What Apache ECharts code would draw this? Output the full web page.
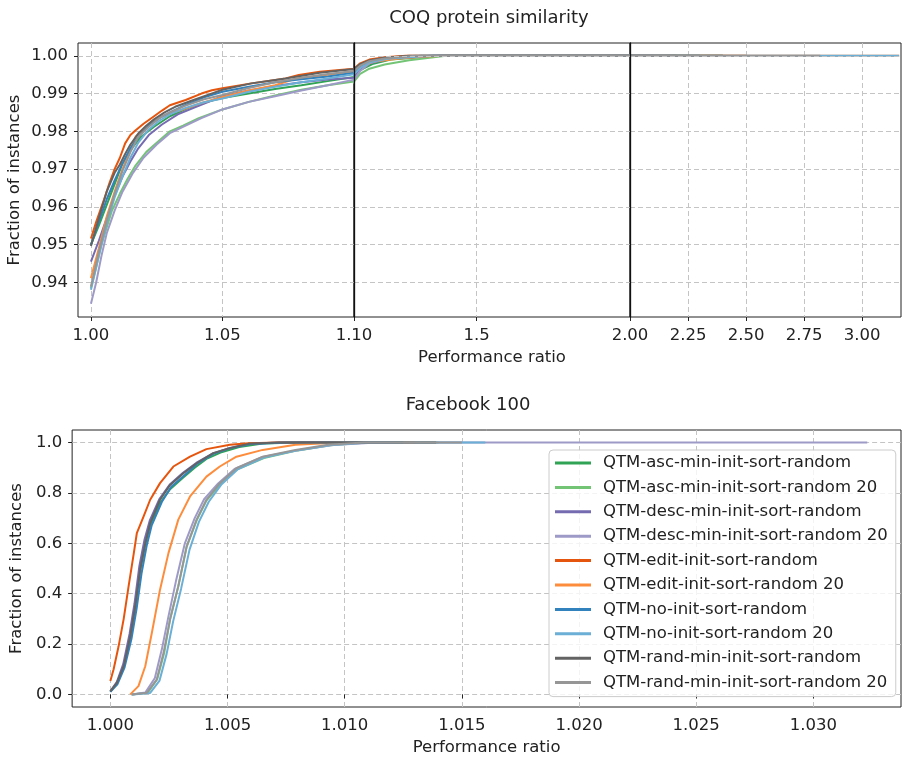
<!DOCTYPE html>
<html><head><meta charset="utf-8">
<script src="https://cdn.jsdelivr.net/npm/echarts@6/dist/echarts.min.js"></script>
<style>html,body{margin:0;padding:0;background:#fff}#c{width:902px;height:759px}</style>
</head><body><div id="c"></div>
<script>
// ---------------- data ----------------
const seriesNames = [
  'QTM-asc-min-init-sort-random', 'QTM-asc-min-init-sort-random 20',
  'QTM-desc-min-init-sort-random', 'QTM-desc-min-init-sort-random 20',
  'QTM-edit-init-sort-random', 'QTM-edit-init-sort-random 20',
  'QTM-no-init-sort-random', 'QTM-no-init-sort-random 20',
  'QTM-rand-min-init-sort-random', 'QTM-rand-min-init-sort-random 20'
];
const seriesColors = ['#31a354','#74c476','#756bb1','#9e9ac8','#e6550d','#fd8d3c','#3182bd','#6baed6','#636363','#969696'];

// COQ protein similarity : [performance ratio, fraction of instances]
const coqAsc = [[1.000,0.9500],[1.003,0.9550],[1.006,0.9605],[1.009,0.9660],[1.012,0.9715],[1.015,0.9750],[1.019,0.9785],[1.024,0.9812],[1.030,0.9840],[1.037,0.9862],[1.044,0.9878],[1.050,0.9888],[1.060,0.9900],[1.070,0.9912],[1.080,0.9922],[1.090,0.9933],[1.100,0.9944],[1.120,0.9962],[1.160,0.9978],[1.220,0.9990],[1.380,1.0],[2.40,1.0]];
const coqAsc20 = [[1.000,0.9385],[1.002,0.9440],[1.004,0.9500],[1.006,0.9545],[1.008,0.9590],[1.011,0.9635],[1.014,0.9675],[1.017,0.9710],[1.021,0.9745],[1.025,0.9770],[1.030,0.9800],[1.035,0.9815],[1.041,0.9835],[1.050,0.9858],[1.060,0.9878],[1.070,0.9895],[1.080,0.9910],[1.090,0.9922],[1.100,0.9932],[1.120,0.9952],[1.150,0.9966],[1.200,0.9977],[1.280,0.9988],[1.400,1.0],[2.00,1.0]];
const coqDesc = [[1.000,0.9455],[1.003,0.9510],[1.006,0.9570],[1.009,0.9630],[1.012,0.9680],[1.015,0.9720],[1.018,0.9755],[1.022,0.9790],[1.027,0.9818],[1.033,0.9845],[1.040,0.9865],[1.050,0.9893],[1.060,0.9908],[1.070,0.9920],[1.080,0.9930],[1.090,0.9937],[1.100,0.9942],[1.120,0.9962],[1.150,0.9980],[1.220,0.9992],[1.360,1.0],[2.20,1.0]];
const coqDesc20 = [[1.000,0.9343],[1.002,0.9400],[1.004,0.9470],[1.006,0.9530],[1.009,0.9590],[1.012,0.9640],[1.016,0.9690],[1.020,0.9730],[1.025,0.9765],[1.030,0.9795],[1.035,0.9812],[1.042,0.9835],[1.050,0.9858],[1.060,0.9878],[1.070,0.9893],[1.080,0.9908],[1.090,0.9922],[1.100,0.9937],[1.120,0.9960],[1.150,0.9980],[1.200,0.9992],[1.300,0.9998],[1.360,1.0],[2.10,1.0]];
const coqEdit = [[1.000,0.9516],[1.002,0.9560],[1.0035,0.9590],[1.005,0.9620],[1.007,0.9662],[1.009,0.9700],[1.011,0.9730],[1.013,0.9768],[1.015,0.9790],[1.017,0.9803],[1.020,0.9820],[1.024,0.9840],[1.027,0.9855],[1.030,0.9869],[1.036,0.9883],[1.042,0.9900],[1.046,0.9909],[1.050,0.9914],[1.061,0.9927],[1.074,0.9940],[1.079,0.9949],[1.087,0.9958],[1.100,0.9966],[1.120,0.9980],[1.150,0.9990],[1.200,0.9996],[1.270,1.0],[2.50,1.0]];
const coqEdit20 = [[1.000,0.9411],[1.003,0.9490],[1.006,0.9574],[1.009,0.9640],[1.012,0.9700],[1.015,0.9752],[1.017,0.9786],[1.020,0.9805],[1.023,0.9825],[1.027,0.9840],[1.030,0.9848],[1.035,0.9858],[1.042,0.9875],[1.050,0.9891],[1.060,0.9908],[1.070,0.9922],[1.078,0.9940],[1.090,0.9950],[1.100,0.9959],[1.120,0.9972],[1.160,0.9984],[1.250,0.9993],[1.330,0.9998],[1.400,1.0],[3.16,1.0]];
const coqNo = [[1.000,0.9499],[1.003,0.9560],[1.006,0.9620],[1.009,0.9670],[1.012,0.9715],[1.015,0.9755],[1.018,0.9785],[1.022,0.9815],[1.026,0.9835],[1.030,0.9850],[1.036,0.9870],[1.043,0.9890],[1.050,0.9905],[1.060,0.9918],[1.070,0.9930],[1.080,0.9938],[1.090,0.9945],[1.100,0.9955],[1.120,0.9972],[1.150,0.9985],[1.200,0.9993],[1.320,1.0],[2.30,1.0]];
const coqNo20 = [[1.000,0.9380],[1.003,0.9470],[1.006,0.9556],[1.009,0.9625],[1.012,0.9680],[1.015,0.9730],[1.018,0.9770],[1.022,0.9805],[1.026,0.9828],[1.030,0.9845],[1.036,0.9862],[1.043,0.9877],[1.050,0.9887],[1.060,0.9905],[1.070,0.9918],[1.080,0.9930],[1.090,0.9940],[1.100,0.9951],[1.120,0.9968],[1.150,0.9982],[1.210,0.9992],[1.350,1.0],[3.16,1.0]];
const coqRand = [[1.000,0.9496],[1.003,0.9570],[1.006,0.9640],[1.009,0.9690],[1.011,0.9712],[1.013,0.9740],[1.015,0.9765],[1.018,0.9794],[1.021,0.9815],[1.024,0.9832],[1.028,0.9850],[1.032,0.9865],[1.039,0.9883],[1.045,0.9898],[1.050,0.9910],[1.061,0.9927],[1.074,0.9940],[1.087,0.9955],[1.100,0.9965],[1.120,0.9978],[1.150,0.9988],[1.200,0.9995],[1.280,1.0],[2.40,1.0]];
const coqRand20 = [[1.000,0.9389],[1.003,0.9480],[1.006,0.9565],[1.009,0.9635],[1.012,0.9695],[1.015,0.9745],[1.018,0.9785],[1.022,0.9812],[1.026,0.9835],[1.030,0.9850],[1.036,0.9868],[1.043,0.9885],[1.050,0.9896],[1.060,0.9915],[1.070,0.9930],[1.080,0.9942],[1.090,0.9952],[1.100,0.9960],[1.120,0.9974],[1.150,0.9986],[1.200,0.9993],[1.300,1.0],[2.82,1.0]];

// Facebook 100
const fbAsc = [[1.0000,0.011],[1.00028,0.045],[1.00057,0.11],[1.00085,0.228],[1.00106,0.345],[1.00127,0.49],[1.00149,0.595],[1.0017,0.672],[1.00212,0.76],[1.00255,0.815],[1.0031,0.86],[1.0036,0.9],[1.0041,0.935],[1.0047,0.96],[1.0055,0.982],[1.0065,0.996],[1.0080,1.0],[1.0126,1.0]];
const fbAsc20 = [[1.0009,0.0],[1.0016,0.007],[1.0020,0.06],[1.0023,0.165],[1.00255,0.30],[1.0029,0.43],[1.00325,0.585],[1.00368,0.69],[1.0041,0.77],[1.0047,0.835],[1.0054,0.893],[1.0066,0.94],[1.0080,0.969],[1.0094,0.989],[1.0110,1.0],[1.0140,1.0]];
const fbDesc = [[1.0000,0.012],[1.00028,0.05],[1.00055,0.12],[1.00082,0.24],[1.00103,0.36],[1.00124,0.51],[1.00146,0.615],[1.00168,0.69],[1.0021,0.777],[1.00255,0.835],[1.0031,0.88],[1.00368,0.92],[1.0044,0.958],[1.0051,0.979],[1.0059,0.995],[1.0072,1.0],[1.0120,1.0]];
const fbDesc20 = [[1.0009,0.0],[1.0015,0.008],[1.0019,0.065],[1.0022,0.18],[1.00248,0.31],[1.0028,0.45],[1.00318,0.60],[1.0036,0.70],[1.0040,0.775],[1.0046,0.838],[1.0053,0.895],[1.0065,0.943],[1.0080,0.970],[1.0095,0.990],[1.0110,0.998],[1.0140,1.0],[1.0323,1.0]];
const fbEdit = [[1.0000,0.053],[1.00014,0.10],[1.00035,0.19],[1.00057,0.30],[1.00078,0.43],[1.0010,0.56],[1.00113,0.64],[1.00142,0.707],[1.0017,0.773],[1.00212,0.839],[1.00269,0.905],[1.0034,0.944],[1.0041,0.974],[1.0051,0.991],[1.0059,0.997],[1.0072,1.0],[1.0098,1.0]];
const fbEdit20 = [[1.00085,0.0],[1.0012,0.033],[1.00149,0.112],[1.00177,0.244],[1.00212,0.416],[1.00248,0.561],[1.0029,0.694],[1.0034,0.786],[1.0041,0.865],[1.00467,0.905],[1.00538,0.944],[1.0065,0.971],[1.0079,0.991],[1.0098,1.0],[1.0130,1.0]];
const fbNo = [[1.0000,0.010],[1.0003,0.040],[1.0006,0.105],[1.0009,0.22],[1.00112,0.34],[1.00133,0.48],[1.00155,0.59],[1.00176,0.67],[1.0022,0.765],[1.0026,0.825],[1.0032,0.873],[1.0037,0.915],[1.0044,0.955],[1.0051,0.977],[1.0060,0.994],[1.0075,1.0],[1.0125,1.0]];
const fbNo20 = [[1.00095,0.0],[1.0017,0.006],[1.0021,0.055],[1.0024,0.16],[1.00268,0.29],[1.00302,0.42],[1.00338,0.575],[1.00378,0.685],[1.0042,0.765],[1.00475,0.835],[1.00545,0.895],[1.0066,0.942],[1.0080,0.970],[1.0094,0.990],[1.0110,1.0],[1.0160,1.0]];
const fbRand = [[1.0000,0.012],[1.00028,0.046],[1.00057,0.112],[1.00085,0.231],[1.00106,0.35],[1.00127,0.495],[1.00149,0.601],[1.0017,0.68],[1.00212,0.773],[1.00255,0.832],[1.00312,0.878],[1.00368,0.918],[1.00439,0.958],[1.0051,0.978],[1.0059,0.995],[1.0072,1.0],[1.0139,1.0]];
const fbRand20 = [[1.00092,0.0],[1.00156,0.007],[1.00198,0.059],[1.00227,0.165],[1.00255,0.297],[1.0029,0.429],[1.00326,0.588],[1.00368,0.694],[1.0041,0.773],[1.00467,0.839],[1.00538,0.898],[1.0065,0.944],[1.0079,0.971],[1.0093,0.991],[1.0108,1.0],[1.0150,1.0]];

const coqData = [coqAsc, coqAsc20, coqDesc, coqDesc20, coqEdit, coqEdit20, coqNo, coqNo20, coqRand, coqRand20];
const fbData = [fbAsc, fbAsc20, fbDesc, fbDesc20, fbEdit, fbEdit20, fbNo, fbNo20, fbRand, fbRand20];

// tick values
const coqYTicks = [0.94, 0.95, 0.96, 0.97, 0.98, 0.99, 1.00];
const coqXTicks1 = [1.00, 1.05, 1.10];
const coqXTicks2 = [1.5];
const coqXTicks3 = [2.00, 2.25, 2.50, 2.75, 3.00];
const fbXTicks = [1.000, 1.005, 1.010, 1.015, 1.020, 1.025, 1.030];
const fbYTicks = [0.0, 0.2, 0.4, 0.6, 0.8, 1.0];

// ---------------- chart ----------------
const FONT = 'DejaVu Sans';
const FS = 16.5;
const TXT = '#222';
const GRIDC = '#c4c4c4';

function xAx(gi, min, max, ticks, fmt, extra) {
  return Object.assign({
    type: 'value', gridIndex: gi, min: min, max: max,
    axisLine: { show: false },
    axisTick: { show: true, customValues: ticks, length: 4, inside: false, lineStyle: { color: TXT, width: 1 } },
    axisLabel: { show: true, customValues: ticks, formatter: fmt, fontFamily: FONT, fontSize: FS, color: TXT, margin: 10, showMinLabel: true, showMaxLabel: true },
    splitLine: { show: true, lineStyle: { color: GRIDC, type: [5, 3], width: 1 } }
  }, extra || {});
}
function yAx(gi, min, max, ticks, fmt, showLabels, extra) {
  return Object.assign({
    type: 'value', gridIndex: gi, min: min, max: max,
    axisLine: { show: false },
    axisTick: { show: showLabels, customValues: ticks, length: 4, lineStyle: { color: TXT, width: 1 } },
    axisLabel: { show: showLabels, customValues: ticks, formatter: fmt, fontFamily: FONT, fontSize: FS, color: TXT, margin: 10, showMinLabel: true, showMaxLabel: true },
    splitLine: { show: true, lineStyle: { color: GRIDC, type: [5, 3], width: 1 } }
  }, extra || {});
}

const gridStyle = { show: true, borderColor: TXT, borderWidth: 1, backgroundColor: 'transparent', containLabel: false };
const grids = [
  Object.assign({ left: 78, top: 43, width: 276, height: 274 }, gridStyle),
  Object.assign({ left: 354, top: 43, width: 276, height: 274 }, gridStyle),
  Object.assign({ left: 630, top: 43, width: 271, height: 274 }, gridStyle),
  Object.assign({ left: 68, top: 430, width: 833, height: 277 }, gridStyle)
];

const f2 = v => v.toFixed(2);
const f1 = v => String(v);
const f3 = v => v.toFixed(3);
const f1y = v => v.toFixed(1);

const nameStyle = { fontFamily: FONT, fontSize: FS, color: TXT };
// solid separator line between the broken-axis panels (drawn above grid lines)
const sepLine = { show: true, lineStyle: { color: '#111', width: 1.3 } };

const xAxes = [
  xAx(0, 0.99508, 1.10, coqXTicks1, f2),
  xAx(1, 1.10, 2.00, coqXTicks2, f1, { name: 'Performance ratio', nameLocation: 'middle', nameGap: 32, nameTextStyle: nameStyle }),
  xAx(2, 2.00, 3.168, coqXTicks3, f2),
  xAx(3, 0.99837, 1.03374, fbXTicks, f3, { name: 'Performance ratio', nameLocation: 'middle', nameGap: 32, nameTextStyle: nameStyle })
];
const yAxes = [
  yAx(0, 0.9308, 1.0034, coqYTicks, f2, true, { name: 'Fraction of instances', nameLocation: 'middle', nameRotate: 90, nameGap: 55, nameTextStyle: nameStyle }),
  yAx(1, 0.9308, 1.0034, coqYTicks, f2, false, { axisLine: sepLine, z: 6 }),
  yAx(2, 0.9308, 1.0034, coqYTicks, f2, false, { axisLine: sepLine, z: 6 }),
  yAx(3, -0.05, 1.05, fbYTicks, f1y, true, { name: 'Fraction of instances', nameLocation: 'middle', nameRotate: 90, nameGap: 45, nameTextStyle: nameStyle })
];

const series = [];
for (let gi = 0; gi < 3; gi++) {
  coqData.forEach((d, k) => {
    series.push({
      type: 'line', name: seriesNames[k], xAxisIndex: gi, yAxisIndex: gi, data: d,
      symbol: 'none', showSymbol: false, clip: true, silent: true, animation: false,
      lineStyle: { width: 2, color: seriesColors[k] }, itemStyle: { color: seriesColors[k] }
    });
  });
}
fbData.forEach((d, k) => {
  series.push({
    type: 'line', name: seriesNames[k], xAxisIndex: 3, yAxisIndex: 3, data: d,
    symbol: 'none', showSymbol: false, clip: true, silent: true, animation: false,
    lineStyle: { width: 2, color: seriesColors[k] }, itemStyle: { color: seriesColors[k] }
  });
});

const option = {
  backgroundColor: '#fff',
  animation: false,
  grid: grids,
  xAxis: xAxes,
  yAxis: yAxes,
  series: series,
  legend: {
    data: seriesNames, orient: 'vertical', left: 549, top: 450,
    padding: [4, 8, 5, 6], itemWidth: 36, itemHeight: 3, itemGap: 6.4, icon: 'rect',
    selectedMode: false, borderColor: '#cccccc', borderWidth: 1, borderRadius: 4,
    backgroundColor: 'rgba(255,255,255,0.8)',
    textStyle: { fontFamily: FONT, fontSize: FS, color: TXT, lineHeight: 18, padding: [0, 0, 0, 7] }
  },
  graphic: [
    { type: 'text', x: 489, y: 18, silent: true,
      style: { text: 'COQ protein similarity', align: 'center', verticalAlign: 'middle', fontFamily: FONT, fontSize: 18, fill: TXT } },
    { type: 'text', x: 468, y: 405, silent: true,
      style: { text: 'Facebook 100', align: 'center', verticalAlign: 'middle', fontFamily: FONT, fontSize: 18, fill: TXT } }
  ]
};

const chart = echarts.init(document.getElementById('c'), null, { renderer: 'canvas', width: 902, height: 759 });
chart.setOption(option);
</script>
</body></html>
